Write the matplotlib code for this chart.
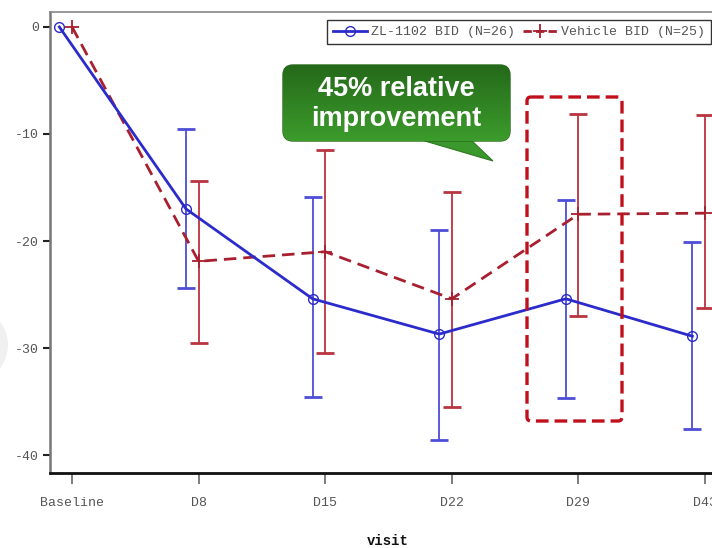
import numpy as np
from matplotlib import pyplot as plt
from matplotlib.patches import FancyBboxPatch, Polygon, Circle
from matplotlib.lines import Line2D
import matplotlib.colors as mcolors

visits = ['Baseline', 'D8', 'D15', 'D22', 'D29', 'D43']

zl_mean = [0, -17.0, -25.4, -28.7, -25.4, -28.9]
zl_low = [0, -24.4, -34.6, -38.6, -34.7, -37.6]
zl_high = [0, -9.5, -15.9, -19.0, -16.2, -20.1]

veh_mean = [0, -21.9, -21.0, -25.4, -17.5, -17.4]
veh_low = [0, -29.5, -30.5, -35.5, -27.0, -26.3]
veh_high = [0, -14.4, -11.5, -15.4, -8.1, -8.2]

zl_label = 'ZL-1102 BID (N=26)'
veh_label = 'Vehicle BID (N=25)'
yticks = [0, -10, -20, -30, -40]

blue = '#2b2bcc'
blue_err = '#4d4dd6'
red = '#a8202f'
red_err = '#b8343f'
mono = 'Liberation Mono'

W, H = 712, 548
fig = plt.figure(figsize=(W / 100, H / 100), dpi=100)
ax = fig.add_axes([50 / W, 1 - 473 / H, 1 - 50 / W, (473 - 12) / H])

x = np.arange(len(visits))
xb = x - 0.1   # blue is shifted a bit to the left

zl_mean = np.array(zl_mean)
veh_mean = np.array(veh_mean)
zl_err = [zl_mean[1:] - np.array(zl_low[1:]), np.array(zl_high[1:]) - zl_mean[1:]]
veh_err = [veh_mean[1:] - np.array(veh_low[1:]), np.array(veh_high[1:]) - veh_mean[1:]]

ax.errorbar(xb[1:], zl_mean[1:], yerr=zl_err, fmt='none', ecolor=blue_err,
            elinewidth=1.3, capsize=6.5, capthick=2, zorder=2)
ax.errorbar(x[1:], veh_mean[1:], yerr=veh_err, fmt='none', ecolor=red_err,
            elinewidth=1.3, capsize=6.5, capthick=2, zorder=2)

ax.plot(xb, zl_mean, color=blue, lw=2.0, marker='o', ms=7, mfc='none',
        mec=blue, mew=1.0, zorder=4)
ax.plot(x, veh_mean, color=red, lw=2.0, ls=(0, (4.5, 2.5)), marker='+', ms=10,
        mec=red, mew=1.3, zorder=3)

ax.set_xlim(-0.174, 5.055)
ax.set_ylim(-41.68, 1.4)
ax.set_xticks(x)
ax.set_xticklabels(visits)
ax.set_yticks(yticks)
ax.set_yticklabels([str(v) for v in yticks])

for lab in ax.get_xticklabels() + ax.get_yticklabels():
    lab.set_family(mono)
    lab.set_fontsize(9.5)
    lab.set_color('#555555')

ax.tick_params(axis='x', length=8, width=1.2, color='#666666', pad=9)
ax.tick_params(axis='y', length=5, width=1.5, color='#222222', pad=3)

ax.spines['right'].set_visible(False)
ax.spines['left'].set_color('#777777')
ax.spines['left'].set_linewidth(1.8)
ax.spines['bottom'].set_color('#111111')
ax.spines['bottom'].set_linewidth(2.0)
ax.spines['top'].set_color('#888888')
ax.spines['top'].set_linewidth(1.2)

fig.text(388 / W, 1 - 541 / H, 'visit', family=mono, fontsize=10,
         fontweight='bold', ha='center', va='center', color='#111111')

handles = [
    Line2D([], [], color=blue, lw=2.0, marker='o', ms=7, mfc='none', mec=blue),
    Line2D([], [], color=red, lw=2.0, ls=(0, (3, 1.5)), marker='+', ms=10, mec=red, mew=1.3),
]
leg = ax.legend(handles, [zl_label, veh_label], loc='upper right', ncol=2,
                bbox_to_anchor=(711 / W, 1 - 20 / H), bbox_transform=fig.transFigure,
                prop={'family': mono, 'size': 9.5}, labelcolor='#555555',
                fancybox=False, edgecolor='#333333', framealpha=1,
                handlelength=2.6, handletextpad=0.3, columnspacing=0.6,
                borderpad=0.45, borderaxespad=0)
leg.get_frame().set_linewidth(1.0)

# overlay in pixel coordinates for annotations
ov = fig.add_axes([0, 0, 1, 1], zorder=10)
ov.axis('off')
ov.patch.set_alpha(0)

ov.add_patch(Circle((-30, 345), 38, facecolor='#f0f0f0', edgecolor='none'))

# dashed highlight box around D29
box = FancyBboxPatch((527, 97), 95, 324, boxstyle='round,pad=0,rounding_size=4',
                     facecolor='none', edgecolor='#c0101c', lw=2.4,
                     ls=(0, (3.8, 1.8)))
ov.add_patch(box)

# green callout
bub = FancyBboxPatch((283, 65), 227, 76, boxstyle='round,pad=0,rounding_size=10',
                     facecolor='none', edgecolor='#2a6a1c', lw=1.0)
tail = Polygon([(418, 139), (470, 139), (493, 161)], closed=True,
               facecolor='#3a982c', edgecolor='#2f7a22', lw=0.8)
ov.add_patch(tail)
ov.add_patch(bub)
grad = np.linspace(0, 1, 100).reshape(-1, 1)
gcmap = mcolors.LinearSegmentedColormap.from_list('g', ['#25691a', '#3c9c2c'])
img = ov.imshow(grad, extent=(283, 510, 141, 65), cmap=gcmap, aspect='auto', zorder=1)
img.set_clip_path(bub)
ov.set_xlim(0, W)
ov.set_ylim(H, 0)

ov.text(396, 89, '45% relative', ha='center', va='center', color='white',
        family='Liberation Sans', fontweight='bold', fontsize=19.5, zorder=5)
ov.text(396, 119, 'improvement', ha='center', va='center', color='white',
        family='Liberation Sans', fontweight='bold', fontsize=19.5, zorder=5)

fig.savefig('out.png', dpi=100)
